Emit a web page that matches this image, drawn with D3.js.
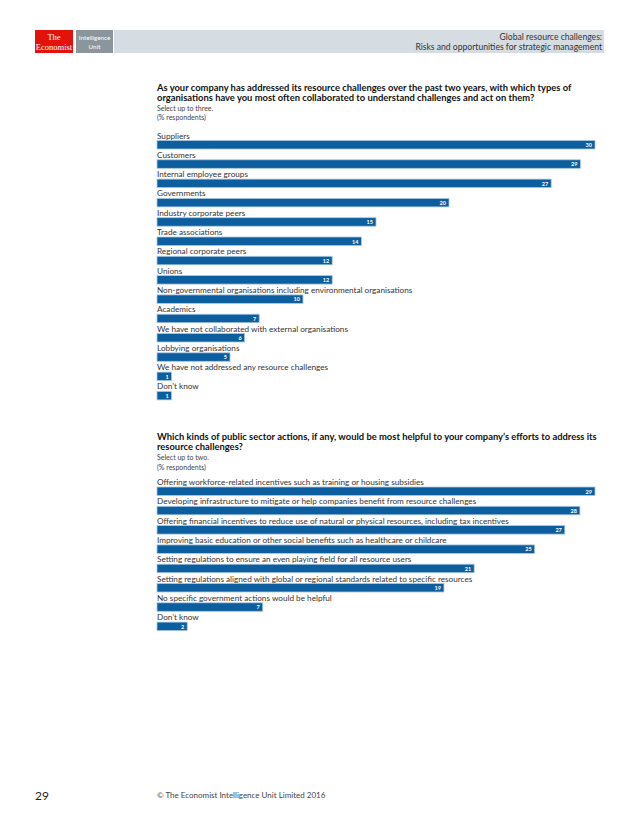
<!DOCTYPE html>
<html>
<head>
<meta charset="utf-8">
<script src="https://d3js.org/d3.v7.min.js"></script>
<style>
  body { margin: 0; background: #fff; }
  svg { display: block; }
</style>
</head>
<body>
<svg id="page"></svg>
<script>
// chart 1 data
var cats1 = ["Suppliers", "Customers", "Internal employee groups", "Governments",
  "Industry corporate peers", "Trade associations", "Regional corporate peers", "Unions",
  "Non-governmental organisations including environmental organisations", "Academics",
  "We have not collaborated with external organisations", "Lobbying organisations",
  "We have not addressed any resource challenges", "Don\u2019t know"];
var vals1 = [30, 29, 27, 20, 15, 14, 12, 12, 10, 7, 6, 5, 1, 1];
var title1 = ["As your company has addressed its resource challenges over the past two years, with which types of",
  "organisations have you most often collaborated to understand challenges and act on them?"];
var sub1 = ["Select up to three.", "(% respondents)"];

// chart 2 data
var cats2 = ["Offering workforce-related incentives such as training or housing subsidies",
  "Developing infrastructure to mitigate or help companies benefit from resource challenges",
  "Offering financial incentives to reduce use of natural or physical resources, including tax incentives",
  "Improving basic education or other social benefits such as healthcare or childcare",
  "Setting regulations to ensure an even playing field for all resource users",
  "Setting regulations aligned with global or regional standards related to specific resources",
  "No specific government actions would be helpful",
  "Don\u2019t know"];
var vals2 = [29, 28, 27, 25, 21, 19, 7, 2];
var title2 = ["Which kinds of public sector actions, if any, would be most helpful to your company\u2019s efforts to address its",
  "resource challenges?"];
var sub2 = ["Select up to two.", "(% respondents)"];

var W = 638, H = 821;
var font = "Lato, 'Open Sans', sans-serif";
var barColor = "#0d5e9f";
var svg = d3.select("#page").attr("width", W).attr("height", H);

// header
var hd = svg.append("g");
hd.append("rect").attr("x", 35).attr("y", 30).attr("width", 38).attr("height", 23).attr("fill", "#e3120b");
hd.append("rect").attr("x", 76).attr("y", 30).attr("width", 37).attr("height", 23).attr("fill", "#8b959c");
hd.append("rect").attr("x", 114).attr("y", 30).attr("width", 490).attr("height", 23).attr("fill", "#d5dde3");
hd.append("text").attr("x", 54).attr("y", 40).attr("text-anchor", "middle")
  .style("font-family", "'Liberation Serif', serif").style("font-size", "8.5px").attr("fill", "#fff").text("The");
hd.append("text").attr("x", 54).attr("y", 49.5).attr("text-anchor", "middle")
  .style("font-family", "'Liberation Serif', serif").style("font-size", "8.5px").attr("fill", "#fff").text("Economist");
hd.append("text").attr("x", 94.5).attr("y", 40).attr("text-anchor", "middle")
  .style("font-family", font).style("font-size", "6.3px").attr("fill", "#fff").text("Intelligence");
hd.append("text").attr("x", 94.5).attr("y", 49).attr("text-anchor", "middle")
  .style("font-family", font).style("font-size", "6.3px").attr("fill", "#fff").text("Unit");
hd.append("text").attr("x", 602).attr("y", 40).attr("text-anchor", "end")
  .style("font-family", font).style("font-size", "8.6px").attr("fill", "#333").text("Global resource challenges:");
hd.append("text").attr("x", 602).attr("y", 49.5).attr("text-anchor", "end")
  .style("font-family", font).style("font-size", "8.6px").attr("fill", "#333").text("Risks and opportunities for strategic management");

function drawChart(cats, vals, title, sub, top) {
  var g = svg.append("g");
  var left = 157;

  // title lines
  title.forEach(function (t, i) {
    g.append("text").attr("x", left).attr("y", top.title + i * 9.5)
      .style("font-family", font).style("font-size", "9.4px").style("font-weight", "bold")
      .attr("fill", "#111").text(t);
  });
  sub.forEach(function (t, i) {
    g.append("text").attr("x", left).attr("y", top.sub + i * 9.5)
      .style("font-family", font).style("font-size", "7px")
      .attr("fill", "#444").text(t);
  });

  var x = d3.scaleLinear().domain([0, d3.max(vals)]).range([left, 595]);
  var y = d3.scaleBand().domain(cats).range([top.bars, top.bars + cats.length * 19.3]);

  var rows = g.selectAll("g.row").data(cats).enter().append("g").attr("class", "row")
    .attr("transform", function (d) { return "translate(0," + y(d) + ")"; });

  rows.append("text").attr("x", left).attr("y", 7)
    .style("font-family", font).style("font-size", "8.2px")
    .attr("fill", "#333").text(function (d) { return d; });

  rows.append("rect").attr("x", left).attr("y", 9)
    .attr("width", function (d, i) { return x(vals[i]) - left; })
    .attr("height", 8.5)
    .attr("fill", barColor).attr("stroke", "#a9c8e2").attr("stroke-width", 0.8);

  rows.append("text").attr("x", function (d, i) { return x(vals[i]) - 3; }).attr("y", 15.6)
    .attr("text-anchor", "end")
    .style("font-family", font).style("font-size", "5.5px").style("font-weight", "bold")
    .attr("fill", "#fff").text(function (d, i) { return vals[i]; });
}

drawChart(cats1, vals1, title1, sub1, { title: 91, sub: 110.5, bars: 131.5 });
drawChart(cats2, vals2, title2, sub2, { title: 440, sub: 460, bars: 478 });

// footer
svg.append("text").attr("x", 35).attr("y", 800)
  .style("font-family", font).style("font-size", "12px").attr("fill", "#222").text("29");
svg.append("text").attr("x", 157).attr("y", 798)
  .style("font-family", font).style("font-size", "8px").attr("fill", "#444")
  .text("\u00a9 The Economist Intelligence Unit Limited 2016");
</script>
</body>
</html>
